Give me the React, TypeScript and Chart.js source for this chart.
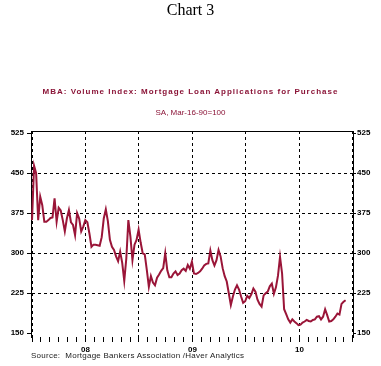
import React, { useEffect, useRef } from 'react';
import { Chart, registerables } from 'chart.js';

Chart.register(...registerables);

// Weekly MBA purchase index, first week of 2008 onward
const purchaseIndex = [
  362, 464, 450, 362, 406, 390, 359, 359, 362, 366,
  367, 403, 359, 385, 380, 362, 341, 365, 381, 358,
  353, 334, 375, 365, 341, 350, 362, 358, 337, 312,
  316, 316, 315, 314, 330, 365, 382, 360, 325, 312,
  306, 294, 285, 303, 282, 248, 290, 362, 331, 287,
  316, 325, 344, 320, 300, 298, 269, 237, 257, 245,
  240, 254, 260, 267, 272, 300, 268, 255, 255, 262,
  266, 259, 262, 268, 271, 267, 278, 271, 284, 262,
  261, 263, 266, 271, 277, 280, 281, 305, 287, 277,
  287, 306, 294, 272, 257, 247, 225, 203, 219, 232,
  240, 232, 219, 207, 210, 220, 216, 223, 234, 228,
  213, 205, 200, 221, 225, 228, 238, 243, 224, 236,
  258, 293, 262, 195, 186, 176, 170, 176, 172, 169,
  165, 166, 170, 172, 175, 173, 172, 175, 176, 181,
  182, 176, 181, 195, 184, 172, 173, 176, 181, 187,
  185, 205, 209, 212,
];

const yTicks = [150, 225, 300, 375, 450, 525];
const yearLabels = ['08', '09', '10'];
const WEEKS_PER_YEAR = 52.18;
const MONTH_COUNT = 36;

const LINE_COLOR = '#9a1538';
const TITLE_COLOR = '#8b1538';

export default function App() {
  const canvasRef = useRef<HTMLCanvasElement | null>(null);

  useEffect(() => {
    const canvas = canvasRef.current;
    if (!canvas) return;

    const monthTicks = Array.from({ length: MONTH_COUNT + 1 }, (_, m) => (m * WEEKS_PER_YEAR) / 12);
    const labelFor = (idx: number) => {
      if (idx % 12 === 6) return yearLabels[(idx - 6) / 12] ?? '';
      return '';
    };
    const tickFont = { family: "'Liberation Sans', Arial, sans-serif", size: 8, weight: 'bold' as const };

    const chart = new Chart(canvas, {
      type: 'line',
      data: {
        datasets: [
          {
            data: purchaseIndex.map((v, i) => ({ x: i, y: v })),
            borderColor: LINE_COLOR,
            borderWidth: 2,
            pointRadius: 0,
            tension: 0,
            fill: false,
          },
        ],
      },
      options: {
        animation: false,
        responsive: false,
        maintainAspectRatio: false,
        layout: { padding: { top: 131, left: 0, right: 0, bottom: 0 } },
        plugins: {
          legend: { display: false },
          tooltip: { enabled: false },
          title: { display: false },
        },
        scales: {
          x: {
            type: 'linear',
            position: 'bottom',
            min: -0.5,
            max: 156.6,
            afterBuildTicks: (s: any) => {
              s.ticks = monthTicks.map((v) => ({ value: v }));
            },
            afterFit: (s: any) => {
              s.height = 29;
            },
            ticks: {
              autoSkip: false,
              maxRotation: 0,
              padding: 3,
              color: '#000',
              font: tickFont,
              callback: (_v: any, idx: number) => labelFor(idx),
            },
            grid: {
              drawTicks: true,
              tickLength: 5,
              lineWidth: 1,
              tickColor: '#000',
              color: (ctx: any) => (ctx.index % 6 === 0 ? '#000' : 'rgba(0,0,0,0)'),
            },
            border: { display: false, dash: [3, 3] },
          },
          xTop: {
            type: 'linear',
            position: 'top',
            min: 0,
            max: 1,
            afterFit: (s: any) => {
              s.height = 0;
            },
            ticks: { display: false },
            grid: { display: false },
            border: { display: true, color: '#000', width: 1 },
          },
          y: {
            type: 'linear',
            position: 'left',
            min: 143,
            max: 529,
            afterBuildTicks: (s: any) => {
              s.ticks = yTicks.map((v) => ({ value: v }));
            },
            afterFit: (s: any) => {
              s.width = 31;
            },
            ticks: { color: '#000', font: tickFont, padding: 3 },
            grid: {
              drawTicks: true,
              tickLength: 4,
              tickColor: '#000',
              lineWidth: 1,
              color: (ctx: any) => {
                const v = ctx.tick?.value;
                return v === 150 || v === 525 ? 'rgba(0,0,0,0)' : '#000';
              },
            },
            border: { display: true, color: '#000', width: 1, dash: [3, 3] },
          },
          y2: {
            type: 'linear',
            position: 'right',
            min: 143,
            max: 529,
            afterBuildTicks: (s: any) => {
              s.ticks = yTicks.map((v) => ({ value: v }));
            },
            afterFit: (s: any) => {
              s.width = 28;
            },
            ticks: { color: '#000', font: tickFont, padding: 1 },
            grid: {
              drawOnChartArea: false,
              drawTicks: true,
              tickLength: 3,
              tickColor: '#000',
            },
            border: { display: true, color: '#000', width: 1 },
          },
        },
      },
    });

    return () => {
      chart.destroy();
    };
  }, []);

  const sans = "'Liberation Sans', Arial, sans-serif";

  return (
    <div style={{ position: 'absolute', left: 0, top: 0, width: 381, height: 366, background: '#fff' }}>
      <canvas
        ref={canvasRef}
        width={381}
        height={366}
        style={{ position: 'absolute', left: 0, top: 0, width: 381, height: 366 }}
      />
      <div
        style={{
          position: 'absolute',
          left: 0,
          top: 0,
          width: 381,
          textAlign: 'center',
          fontFamily: "'Liberation Serif', 'Times New Roman', serif",
          fontSize: 16,
          lineHeight: '20px',
          color: '#000',
        }}
      >
        Chart 3
      </div>
      <div
        style={{
          position: 'absolute',
          left: 0,
          top: 87,
          width: 381,
          textAlign: 'center',
          fontFamily: sans,
          fontSize: 8,
          fontWeight: 'bold',
          letterSpacing: '1px',
          lineHeight: '10px',
          color: TITLE_COLOR,
          whiteSpace: 'nowrap',
        }}
      >
        MBA: Volume Index: Mortgage Loan Applications for Purchase
      </div>
      <div
        style={{
          position: 'absolute',
          left: 0,
          top: 108,
          width: 381,
          textAlign: 'center',
          fontFamily: sans,
          fontSize: 8,
          lineHeight: '10px',
          color: TITLE_COLOR,
          whiteSpace: 'nowrap',
        }}
      >
        SA, Mar-16-90=100
      </div>
      <div
        style={{
          position: 'absolute',
          left: 31,
          top: 351,
          fontFamily: sans,
          fontSize: 8,
          lineHeight: '10px',
          letterSpacing: '0.25px',
          color: '#222',
          whiteSpace: 'nowrap',
        }}
      >
        Source:&nbsp; Mortgage Bankers Association /Haver Analytics
      </div>
    </div>
  );
}
